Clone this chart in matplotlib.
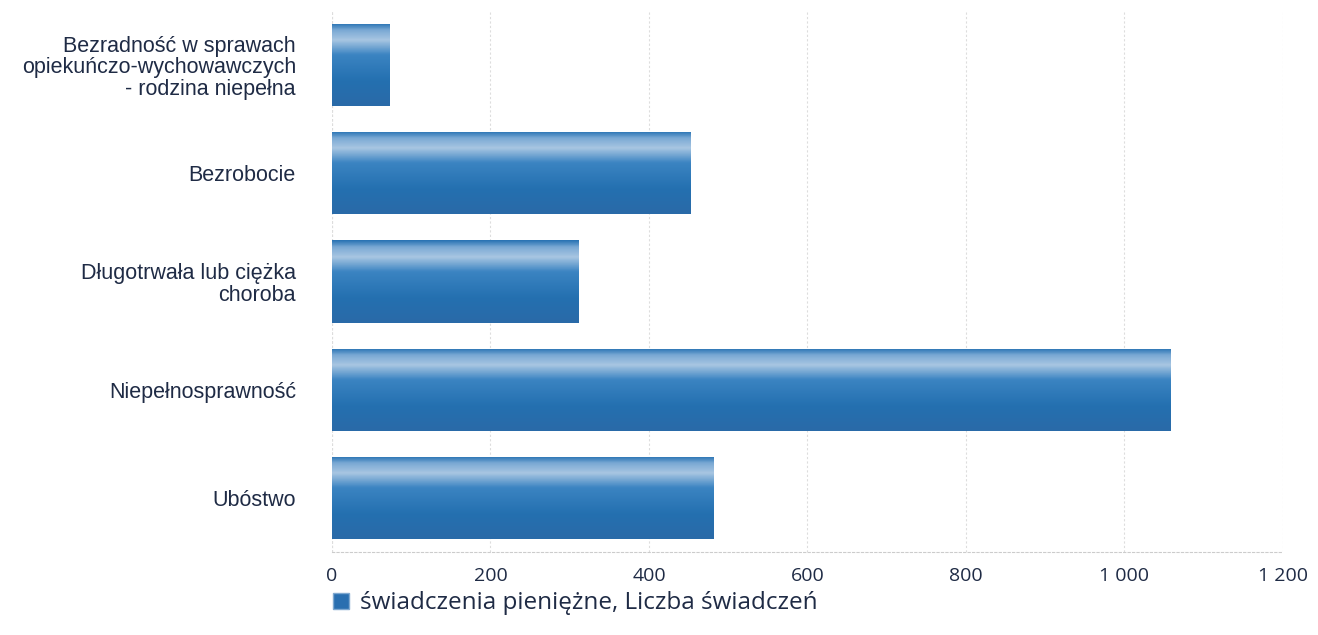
import matplotlib
matplotlib.use("Agg")
import matplotlib.pyplot as plt
import numpy as np
from matplotlib.ticker import FuncFormatter
from matplotlib.colors import LinearSegmentedColormap
from matplotlib.patches import Patch

categories = ["Bezradność w sprawach\nopiekuńczo-wychowawczych\n- rodzina niepełna",
              "Bezrobocie",
              "Długotrwała lub ciężka\nchoroba",
              "Niepełnosprawność",
              "Ubóstwo"]
values = [72, 452, 311, 1058, 481]
series_name = "świadczenia pieniężne, Liczba świadczeń"
xticks = [0, 200, 400, 600, 800, 1000, 1200]

text_color = "#1f2b45"
bar_color = "#2a6fb0"

fig = plt.figure(figsize=(13.18, 6.35), dpi=100)
ax = fig.add_axes([0.2519, 0.1307, 0.7215, 0.852])

y = np.arange(len(categories))
bars = ax.barh(y, values, height=0.76, color=bar_color, zorder=2)

# glossy gradient on each bar: light band near the top, darker below
cmap = LinearSegmentedColormap.from_list(
    "gloss", [(0.0, "#2a74b4"), (0.08, "#7aa9d4"), (0.2, "#a8c6e2"),
              (0.38, "#3b84c2"), (0.7, "#2470b0"), (1.0, "#2a6aa8")])
grad = np.linspace(0, 1, 100).reshape(-1, 1)
for b in bars:
    x0, y0 = b.get_x(), b.get_y()
    w, h = b.get_width(), b.get_height()
    im = ax.imshow(grad, cmap=cmap, aspect="auto",
                   extent=[x0, x0 + w, y0 + h, y0], zorder=3)
    im.set_clip_path(b)

ax.set_xlim(0, 1200)
ax.set_ylim(len(categories) - 0.5, -0.5)
ax.set_xticks(xticks)
ax.xaxis.set_major_formatter(FuncFormatter(lambda v, p: f"{int(v):,}".replace(",", " ")))
ax.set_yticks(y)
ax.set_yticklabels(categories, fontsize=15.5, color=text_color,
                   family="Liberation Sans", linespacing=1.05,
                   multialignment="right")
for lab in ax.get_xticklabels():
    lab.set_fontsize(14)
    lab.set_color(text_color)
    lab.set_family("Open Sans")
ax.tick_params(axis="y", length=0, pad=26)
ax.tick_params(axis="x", length=0, pad=11)

ax.grid(axis="x", color="#dddddd", linestyle=(0, (2, 2)), linewidth=0.8, zorder=0)
for s in ["top", "right", "left"]:
    ax.spines[s].set_visible(False)
ax.spines["bottom"].set_color("#cccccc")
ax.spines["bottom"].set_linestyle((0, (2, 2)))
ax.axvline(0, color="#cccccc", linestyle=(0, (2, 2)), linewidth=0.8, zorder=1)

handle = Patch(facecolor=bar_color, edgecolor="#7fa8d0")
fig.legend([handle], [series_name], loc="center left",
           bbox_to_anchor=(0.236, 0.05), frameon=False,
           prop={"family": "Open Sans", "size": 17.5},
           handlelength=0.65, handleheight=0.65, handletextpad=0.45,
           labelcolor=text_color)

fig.savefig("out.png", dpi=100)
